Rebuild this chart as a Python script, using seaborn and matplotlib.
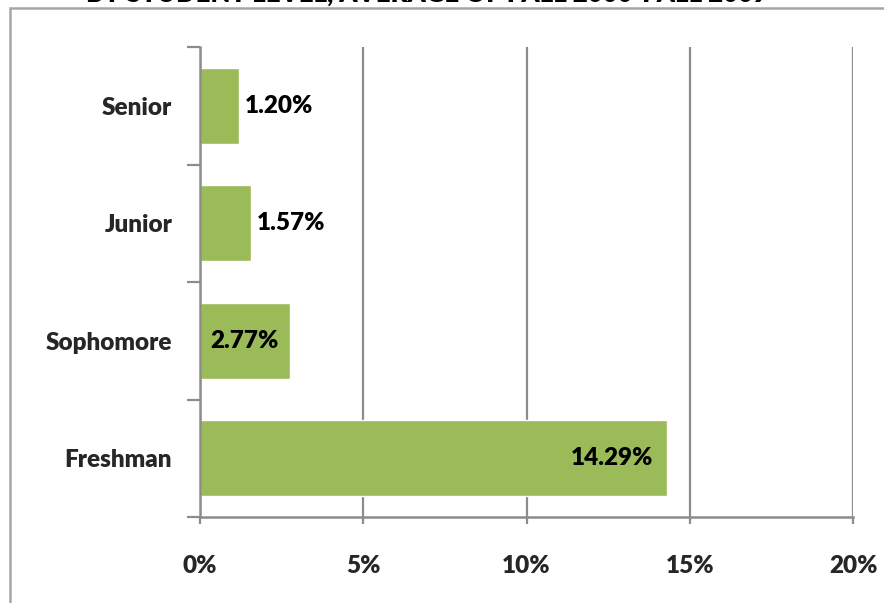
import numpy as np
import pandas as pd
import matplotlib
matplotlib.use("Agg")
import matplotlib.pyplot as plt
import seaborn as sns
from matplotlib.patches import Rectangle

# data
levels = ['Senior', 'Junior', 'Sophomore', 'Freshman']
rates = [1.20, 1.57, 2.77, 14.29]
inside = [False, False, True, True]
x_ticks = [0, 5, 10, 15, 20]
title = 'BY STUDENT LEVEL, AVERAGE OF FALL 2000-FALL 2009'

sns.set_theme(style="white")
plt.rcParams['font.family'] = ['Lato', 'DejaVu Sans']
plt.rcParams['font.weight'] = 'bold'

df = pd.DataFrame({'level': levels, 'rate': rates})

fig = plt.figure(figsize=(8.84, 6.03), dpi=100)
ax = fig.add_axes([0.2262, 0.1426, 0.9650 - 0.2262, (1 - 47 / 603) - 0.1426])

sns.barplot(data=df, y='level', x='rate', order=levels, color='#9BBB59',
            saturation=1, width=0.65, ax=ax)

grey = '#8c8c8c'
fs = 17.5
ax.set_xlim(0, 20)
ax.set_ylim(3.5, -0.5)
ax.set_xticks(x_ticks)
ax.set_xticklabels(['%d%%' % t for t in x_ticks])
ax.xaxis.grid(True, color=grey, linewidth=1.6)
ax.set_axisbelow(True)
ax.set_xlabel('')
ax.set_ylabel('')

# category boundary ticks on the y axis
ax.set_yticks(np.arange(-0.5, len(levels)), minor=True)
ax.tick_params(axis='y', which='major', length=0, pad=20, labelsize=fs)
ax.tick_params(axis='y', which='minor', left=True, length=9.5, width=1.6, color=grey)
ax.tick_params(axis='x', bottom=True, length=5, width=1.6, color=grey, pad=22, labelsize=fs)
for lab in ax.get_yticklabels() + ax.get_xticklabels():
    lab.set_fontweight('heavy')

for s in ['top', 'right']:
    ax.spines[s].set_visible(False)
for s in ['left', 'bottom']:
    ax.spines[s].set_color(grey)
    ax.spines[s].set_linewidth(1.8)

for i, (v, ins) in enumerate(zip(rates, inside)):
    if ins:
        off = -10 if v > 10 else -8.5
        ax.annotate('%.2f%%' % v, (v, i), xytext=(off, 0), textcoords='offset points',
                    ha='right', va='center', fontsize=fs, fontweight='heavy', color='black')
    else:
        ax.annotate('%.2f%%' % v, (v, i), xytext=(4.3, 0), textcoords='offset points',
                    ha='left', va='center', fontsize=fs, fontweight='heavy', color='black')

# chart frame and clipped title at the top
fig.patches.append(Rectangle((10 / 884, -0.05), 1.0, 1 - 8 / 603 + 0.05,
                             transform=fig.transFigure, fill=False,
                             edgecolor='#a6a6a6', linewidth=1.8))
fig.text(427 / 884, 1 - 2 / 603, title, ha='center', va='baseline',
         fontsize=18.5, fontweight='heavy', color='black')

plt.savefig('out.png', dpi=100)
